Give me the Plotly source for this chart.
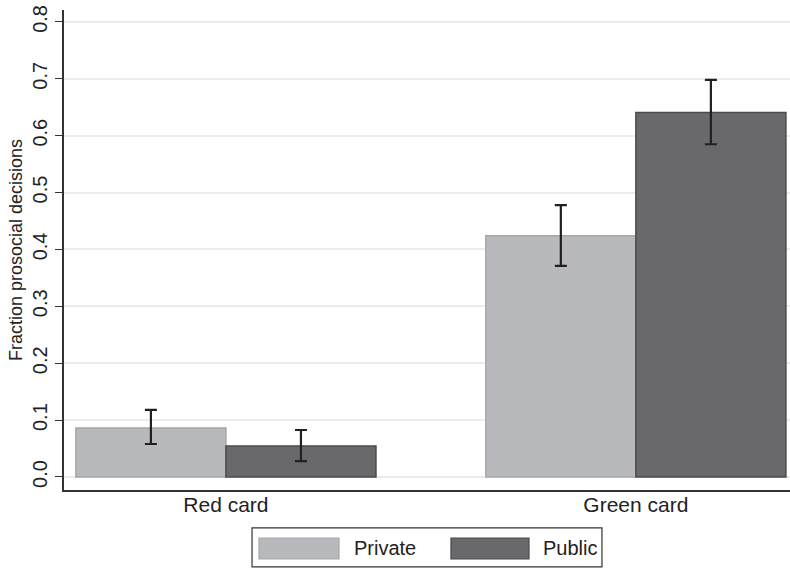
import plotly.graph_objects as go

categories = ["Red card", "Green card"]
private_vals = [0.086, 0.424]
private_lo = [0.058, 0.371]
private_hi = [0.118, 0.478]
public_vals = [0.0545, 0.641]
public_lo = [0.028, 0.585]
public_hi = [0.0826, 0.698]
y_ticks = [0.0, 0.1, 0.2, 0.3, 0.4, 0.5, 0.6, 0.7, 0.8]
y_ticktext = ["0.0", "0.1", "0.2", "0.3", "0.4", "0.5", "0.6", "0.7", "0.8"]

FONT = "Liberation Sans, Arial, sans-serif"
PRIV_FILL = "#b8b9bc"
PRIV_LINE = "#a6a7a9"
PUB_FILL = "#69696b"
PUB_LINE = "#4b4b4d"
ERR = "#231f20"

x_idx = list(range(len(categories)))

fig = go.Figure()
fig.add_trace(go.Bar(
    x=x_idx, y=private_vals, name="Private",
    marker=dict(color=PRIV_FILL, line=dict(color=PRIV_LINE, width=1.5)),
    error_y=dict(type="data", symmetric=False,
                 array=[h - v for h, v in zip(private_hi, private_vals)],
                 arrayminus=[v - l for l, v in zip(private_lo, private_vals)],
                 color=ERR, thickness=2.2, width=6),
    showlegend=False,
))
fig.add_trace(go.Bar(
    x=x_idx, y=public_vals, name="Public",
    marker=dict(color=PUB_FILL, line=dict(color=PUB_LINE, width=1.5)),
    error_y=dict(type="data", symmetric=False,
                 array=[h - v for h, v in zip(public_hi, public_vals)],
                 arrayminus=[v - l for l, v in zip(public_lo, public_vals)],
                 color=ERR, thickness=2.2, width=6),
    showlegend=False,
))

# custom legend box (Stata style)
shapes = [
    dict(type="rect", xref="paper", yref="paper", x0=0.259, x1=0.741, y0=-0.160, y1=-0.079,
         line=dict(color="#333333", width=1.2), fillcolor="white"),
    dict(type="rect", xref="paper", yref="paper", x0=0.2686, x1=0.3788, y0=-0.1438, y1=-0.100,
         line=dict(color=PRIV_LINE, width=1.2), fillcolor=PRIV_FILL),
    dict(type="rect", xref="paper", yref="paper", x0=0.533, x1=0.6405, y0=-0.1438, y1=-0.100,
         line=dict(color=PUB_LINE, width=1.2), fillcolor=PUB_FILL),
]
annotations = [
    dict(text="Private", xref="paper", yref="paper", x=0.397, y=-0.1215, xanchor="left",
         yanchor="middle", showarrow=False, font=dict(size=20, color="#222222", family=FONT)),
    dict(text="Public", xref="paper", yref="paper", x=0.657, y=-0.1215, xanchor="left",
         yanchor="middle", showarrow=False, font=dict(size=20, color="#222222", family=FONT)),
]

fig.update_layout(
    width=790, height=569,
    margin=dict(l=64, r=0, t=10, b=79),
    paper_bgcolor="white", plot_bgcolor="white",
    barmode="group", bargap=0.268, bargroupgap=0,
    font=dict(family=FONT, size=20, color="#222222"),
    shapes=shapes, annotations=annotations,
    xaxis=dict(
        tickmode="array", tickvals=x_idx, ticktext=categories,
        range=[-0.395, 1.376], showgrid=False, zeroline=False,
        showline=True, linecolor="#333333", linewidth=1.5,
        ticks="", tickfont=dict(size=21, color="#222222"),
        ticklabelstandoff=-5,
    ),
    yaxis=dict(
        range=[-0.0229, 0.821], tickmode="array", tickvals=y_ticks, ticktext=y_ticktext,
        tickangle=-90, ticks="outside", ticklen=7, tickwidth=1.3, tickcolor="#333333",
        showline=True, linecolor="#333333", linewidth=1.5,
        showgrid=True, gridcolor="#ececec", gridwidth=1.5, zeroline=False,
        tickfont=dict(size=20, color="#222222"),
        title=dict(text="Fraction prosocial decisions", font=dict(size=18, color="#222222"), standoff=2),
        automargin=False,
    ),
)

fig.write_html("out.html", config={"displayModeBar": False})

# remove default page margins so the 790x569 figure fills the window exactly
with open("out.html", "r", encoding="utf-8") as f:
    html = f.read()
style = "<style>html,body{margin:0;padding:0;overflow:hidden;}</style>"
if "<head>" in html:
    html = html.replace("<head>", "<head>" + style, 1)
else:
    html = style + html
with open("out.html", "w", encoding="utf-8") as f:
    f.write(html)
